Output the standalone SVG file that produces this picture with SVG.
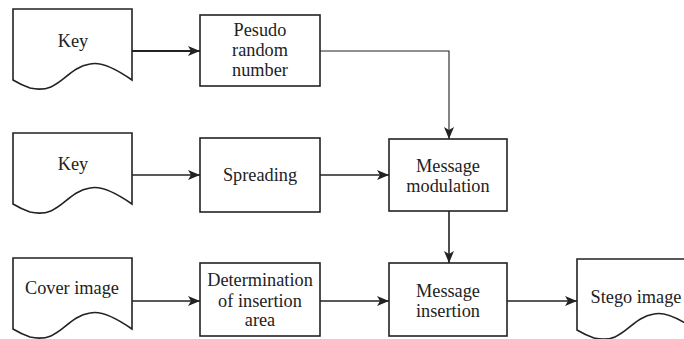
<svg xmlns="http://www.w3.org/2000/svg" width="684" height="339" viewBox="0 0 684 339">
<style>
.box{fill:#fff;stroke:#222;stroke-width:1.6}
.doc{fill:#fff;stroke:#222;stroke-width:1.6;stroke-linejoin:miter}
.c{fill:none;stroke:#222;stroke-width:1.6}
.thin{stroke-width:1.1}
</style>
<defs>
<marker id="ah" viewBox="0 0 12 10" refX="12" refY="5" markerWidth="12" markerHeight="10" markerUnits="userSpaceOnUse" orient="auto">
<path d="M0,0 L12,5 L0,10 L3,5 Z" fill="#222"/>
</marker>
</defs>
<g id="key1">
<path class="doc" d="M13,80 L13,9 L132,9 L132,80 C112,66 98,62 90,64 C65,68 60,95 30,88 C24,86 18,83 13,80 Z"/>
<text x="73" y="47" font-family="'Liberation Serif', serif" font-size="18.3" fill="#222" text-anchor="middle">Key</text>
</g>
<g id="pesudo">
<rect class="box" x="200" y="15" width="120" height="71"/>
<text x="260" y="36" font-family="'Liberation Serif', serif" font-size="18.3" fill="#222" text-anchor="middle">Pesudo</text>
<text x="260" y="56" font-family="'Liberation Serif', serif" font-size="18.3" fill="#222" text-anchor="middle">random</text>
<text x="260" y="76" font-family="'Liberation Serif', serif" font-size="18.3" fill="#222" text-anchor="middle">number</text>
</g>
<g id="key2">
<path class="doc" d="M13,204 L13,133 L132,133 L132,204 C112,190 98,186 90,188 C65,192 60,219 30,212 C24,210 18,207 13,204 Z"/>
<text x="73" y="170" font-family="'Liberation Serif', serif" font-size="18.3" fill="#222" text-anchor="middle">Key</text>
</g>
<g id="spreading">
<rect class="box" x="200" y="138" width="120" height="74"/>
<text x="260" y="181" font-family="'Liberation Serif', serif" font-size="18.3" fill="#222" text-anchor="middle">Spreading</text>
</g>
<g id="modulation">
<rect class="box" x="389" y="139" width="118" height="72"/>
<text x="448" y="172" font-family="'Liberation Serif', serif" font-size="18.3" fill="#222" text-anchor="middle">Message</text>
<text x="448" y="192" font-family="'Liberation Serif', serif" font-size="18.3" fill="#222" text-anchor="middle">modulation</text>
</g>
<g id="cover">
<path class="doc" d="M13,329 L13,258 L132,258 L132,329 C112,315 98,311 90,313 C65,317 60,344 30,337 C24,335 18,332 13,329 Z"/>
<text x="72" y="294" font-family="'Liberation Serif', serif" font-size="18.3" fill="#222" text-anchor="middle">Cover image</text>
</g>
<g id="determination">
<rect class="box" x="200" y="263" width="120" height="73"/>
<text x="260" y="286" font-family="'Liberation Serif', serif" font-size="18.3" fill="#222" text-anchor="middle">Determination</text>
<text x="260" y="307" font-family="'Liberation Serif', serif" font-size="18.3" fill="#222" text-anchor="middle">of insertion</text>
<text x="260" y="326" font-family="'Liberation Serif', serif" font-size="18.3" fill="#222" text-anchor="middle">area</text>
</g>
<g id="insertion">
<rect class="box" x="389" y="263" width="118" height="73"/>
<text x="448" y="297" font-family="'Liberation Serif', serif" font-size="18.3" fill="#222" text-anchor="middle">Message</text>
<text x="448" y="317" font-family="'Liberation Serif', serif" font-size="18.3" fill="#222" text-anchor="middle">insertion</text>
</g>
<g id="stego">
<path class="doc" d="M577,330 L577,259 L696,259 L696,330 C676,316 662,312 654,314 C629,318 624,345 594,338 C588,336 582,333 577,330 Z"/>
<text x="636" y="303" font-family="'Liberation Serif', serif" font-size="18.3" fill="#222" text-anchor="middle">Stego image</text>
</g>
<g id="connectors">
<path class="c" style="stroke-width:2.2" d="M132,51 L200,51" marker-end="url(#ah)"/>
<path class="c thin" d="M320,51 L449,51 L449,139" marker-end="url(#ah)"/>
<path class="c" d="M132,175 L200,175" marker-end="url(#ah)"/>
<path class="c" d="M320,175 L389,175" marker-end="url(#ah)"/>
<path class="c" d="M449,211 L449,263" marker-end="url(#ah)"/>
<path class="c" d="M132,301 L200,301" marker-end="url(#ah)"/>
<path class="c" d="M320,301 L389,301" marker-end="url(#ah)"/>
<path class="c" d="M507,301 L577,301" marker-end="url(#ah)"/>
</g>
</svg>
